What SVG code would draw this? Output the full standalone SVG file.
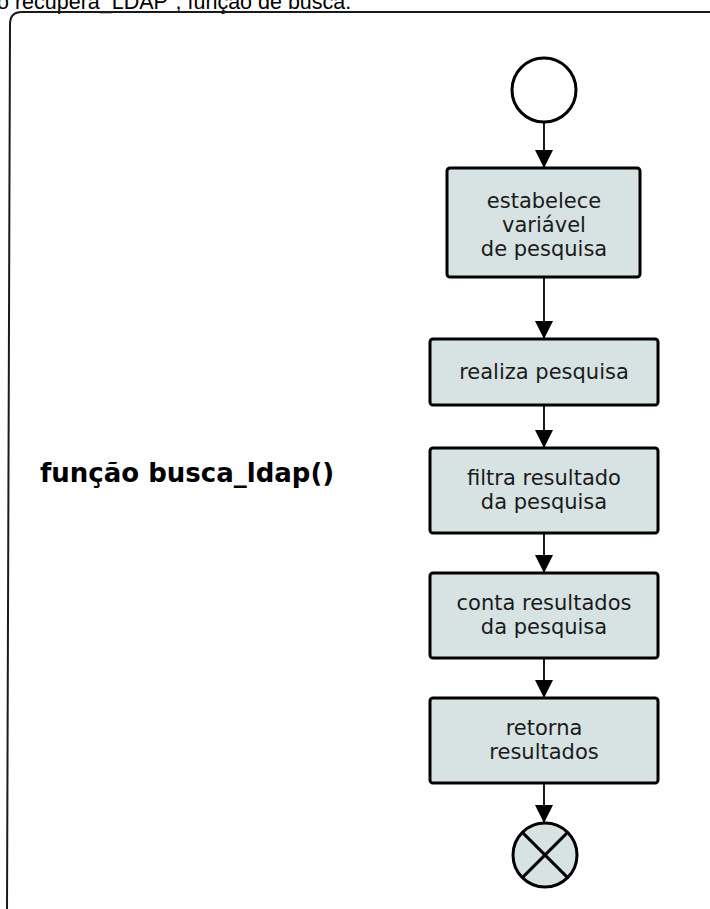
<svg xmlns="http://www.w3.org/2000/svg" width="710" height="909" viewBox="0 0 710 909">
  <defs>
    <marker id="arrow" viewBox="0 0 18 18" refX="18" refY="9" markerWidth="18" markerHeight="18" markerUnits="userSpaceOnUse" orient="auto">
      <path d="M0,0 L18,9 L0,18 Z" fill="#000"/>
    </marker>
    <style>
      .title { font-family: "Liberation Sans", Arial, sans-serif; font-size: 21.5px; fill: #000; }
      .frame { fill: none; stroke: #1a1a1a; stroke-width: 2; }
      .box { fill: #d7e3e3; stroke: #000; stroke-width: 3; }
      .label { font-family: "DejaVu Sans", sans-serif; font-size: 21px; fill: #1a1a1a; text-anchor: middle; }
      .func { font-family: "DejaVu Sans", sans-serif; font-size: 26px; font-weight: bold; fill: #000; }
      .start { fill: #fff; stroke: #000; stroke-width: 3; }
      .end { fill: #d7e3e3; stroke: #000; stroke-width: 3; }
      .edge { stroke: #000; stroke-width: 1.8; fill: none; marker-end: url(#arrow); }
    </style>
  </defs>

  <rect width="710" height="909" fill="#fff"/>

  <!-- caption running off the top edge -->
  <text class="title" x="-3" y="9">o recupera_LDAP", função de busca.</text>

  <!-- enclosing frame, open to the right and bottom -->
  <path class="frame" d="M712 12 H22 Q10 12 10 24 L7 912"/>

  <text class="func" x="40" y="482">função busca_ldap()</text>

  <g id="connectors">
    <line class="edge" x1="544" y1="122" x2="544" y2="168"/>
    <line class="edge" x1="544" y1="277" x2="544" y2="339"/>
    <line class="edge" x1="544" y1="405" x2="544" y2="448"/>
    <line class="edge" x1="544" y1="533" x2="544" y2="573"/>
    <line class="edge" x1="544" y1="658" x2="544" y2="698"/>
    <line class="edge" x1="544" y1="783" x2="544" y2="823"/>
  </g>

  <g id="start">
    <circle class="start" cx="544" cy="90" r="32"/>
  </g>

  <g id="estabelece">
    <rect class="box" x="447" y="168" width="193" height="109" rx="3"/>
    <text class="label" x="544" y="208">estabelece</text>
    <text class="label" x="544" y="232">variável</text>
    <text class="label" x="544" y="256">de pesquisa</text>
  </g>

  <g id="realiza">
    <rect class="box" x="430" y="339" width="228" height="66" rx="3"/>
    <text class="label" x="544" y="378.5">realiza pesquisa</text>
  </g>

  <g id="filtra">
    <rect class="box" x="430" y="448" width="228" height="85" rx="3"/>
    <text class="label" x="544" y="485">filtra resultado</text>
    <text class="label" x="544" y="509">da pesquisa</text>
  </g>

  <g id="conta">
    <rect class="box" x="430" y="573" width="228" height="85" rx="3"/>
    <text class="label" x="544" y="609.5">conta resultados</text>
    <text class="label" x="544" y="633.5">da pesquisa</text>
  </g>

  <g id="retorna">
    <rect class="box" x="430" y="698" width="228" height="85" rx="3"/>
    <text class="label" x="544" y="734.5">retorna</text>
    <text class="label" x="544" y="758.5">resultados</text>
  </g>

  <g id="end">
    <circle class="end" cx="545" cy="855" r="32"/>
    <line x1="522.4" y1="832.4" x2="567.6" y2="877.6" stroke="#000" stroke-width="3"/>
    <line x1="567.6" y1="832.4" x2="522.4" y2="877.6" stroke="#000" stroke-width="3"/>
  </g>
</svg>
